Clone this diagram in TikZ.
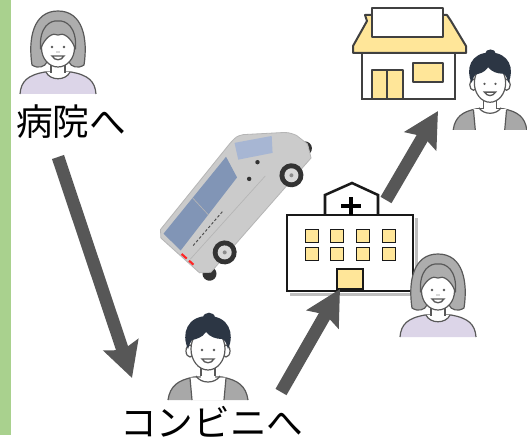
\documentclass[tikz,border=0pt]{standalone}
\usepackage{fontspec}
\newfontfamily\jpfont{Noto Sans CJK JP}
\usetikzlibrary{arrows.meta}

\definecolor{barGreen}{HTML}{A9D18E}
\definecolor{arrowGrey}{HTML}{575757}
\definecolor{lineDark}{HTML}{595959}
\definecolor{hairGrey}{HTML}{ADADAD}
\definecolor{hairNavy}{HTML}{2C3644}
\definecolor{lavender}{HTML}{DCD5E8}
\definecolor{jacketGrey}{HTML}{A8A8A8}
\definecolor{warmYellow}{HTML}{FFE699}
\definecolor{houseLine}{HTML}{404040}
\definecolor{carBody}{HTML}{CBCBCB}
\definecolor{carEdge}{HTML}{B5B5B5}
\definecolor{carBlue}{HTML}{8195B6}
\definecolor{glassBlue}{HTML}{A7B6D3}
\definecolor{tyre}{HTML}{333333}

\tikzset{
  outline/.style={draw=lineDark, line width=0.9pt, line join=round},
  bigarrow/.style={draw=arrowGrey, line width=9.5pt,
    -{Stealth[length=26pt, width=27pt, inset=4pt]}},
  bld/.style={draw=black!90, line width=1.9pt, fill=white, line join=miter},
  win/.style={draw=black!90, line width=1.3pt, fill=warmYellow},
  hse/.style={draw=houseLine, line width=1.5pt, line join=round},
  lbl/.style={font=\jpfont\fontsize{27.5}{30}\selectfont, inner sep=0pt},
  pics/woman/.style={code={
    % hair behind the face
    \draw[outline, fill=hairGrey] (-26,18) .. controls (-30,-8) and (-25,-36) .. (0,-36)
      .. controls (25,-36) and (30,-8) .. (26,18) .. controls (20,22) and (13,20) .. (11,15)
      -- (-11,15) .. controls (-13,20) and (-20,22) .. (-26,18) -- cycle;
    % shoulders
    \fill[lavender] (-38,47) .. controls (-37,34) and (-30,28) .. (-13,25) -- (13,25)
      .. controls (30,28) and (37,34) .. (38,47) -- cycle;
    \draw[outline] (-38,47) .. controls (-37,34) and (-30,28) .. (-13,25) -- (13,25)
      .. controls (30,28) and (37,34) .. (38,47);
    % neck and neckline
    \fill[white] (-7,10) rectangle (7,27);
    \draw[outline, fill=white] (-12,25) .. controls (-8,34) and (8,34) .. (12,25);
    \draw[outline] (-7,12) -- (-7,26) (7,12) -- (7,26);
    % face
    \draw[outline, fill=white] (0,1) ellipse [x radius=16.5, y radius=19];
    % fringe
    \draw[outline, fill=hairGrey] (-17.5,2) .. controls (-19,-20) and (-8,-27) .. (0,-26)
      .. controls (8,-27) and (19,-20) .. (17.5,2) .. controls (13,-10) and (5,-15) .. (0,-12)
      .. controls (-5,-15) and (-13,-10) .. (-17.5,2) -- cycle;
    % eyes and smile
    \fill[lineDark] (-6,0) circle (1.4) (6,0) circle (1.4);
    \fill[lineDark] (-1,5) circle (0.7) (1,5) circle (0.7);
    \draw[lineDark, line width=1pt, fill=white] (-6,9) .. controls (-3,14) and (3,14) .. (6,9) -- cycle;
  }},
  pics/man/.style={code={
    % jacket
    \fill[jacketGrey] (-40,52) .. controls (-38,38) and (-30,32) .. (-14,29) -- (14,29)
      .. controls (30,32) and (38,38) .. (40,52) -- cycle;
    \draw[outline] (-40,52) .. controls (-38,38) and (-30,32) .. (-14,29) -- (14,29)
      .. controls (30,32) and (38,38) .. (40,52);
    % shirt
    \fill[white] (-18,29.5) -- (18,29.5) -- (16,52) -- (-16,52) -- cycle;
    \draw[outline] (-18,30) -- (-16,52) (18,30) -- (16,52);
    % neck and collar
    \fill[white] (-7,12) rectangle (7,30);
    \draw[outline] (-7,14) -- (-7,28) (7,14) -- (7,28);
    \draw[outline] (-12,28) .. controls (-7,36) and (7,36) .. (12,28);
    % ears and face
    \draw[outline, fill=white] (-18,3) ellipse [x radius=4, y radius=6];
    \draw[outline, fill=white] (18,3) ellipse [x radius=4, y radius=6];
    \draw[outline, fill=white] (0,1) ellipse [x radius=17, y radius=21];
    % hair
    \fill[hairNavy] (-20,1) .. controls (-27,-14) and (-21,-32) .. (0,-32)
      .. controls (21,-32) and (27,-14) .. (20,1) .. controls (18.5,-5) and (17,-8) .. (14,-9)
      .. controls (8,-9) and (2,-11) .. (-2,-16) .. controls (-6,-10) and (-12,-9) .. (-16,-8)
      .. controls (-18,-5) .. (-20,1) -- cycle;
    \fill[hairNavy] (-5,-30) .. controls (-5,-37) and (7,-37) .. (7,-30) -- cycle;
    % eyes and smile
    \fill[lineDark] (-6,2) circle (1.4) (6,2) circle (1.4);
    \draw[lineDark, line width=1pt, fill=white] (-6,11) .. controls (-3,16) and (3,16) .. (6,11) -- cycle;
  }},
}

\begin{document}
\begin{tikzpicture}[x=0.75pt, y=-0.75pt]
\useasboundingbox (0,0) rectangle (527,442);
\fill[white] (0,0) rectangle (527,442);
\fill[barGreen] (0,0) rectangle (11,435);

% ---- minivan ----
\begin{scope}[shift={(240,207)}, rotate=48]
  \fill[tyre] (-70,22) circle (7) (87,9) circle (7);
  \draw[carBody, fill=carBody, draw=carEdge, line width=0.6pt]
    (-76,-38) -- (-70,-44) -- (40,-50) .. controls (50,-50) .. (56,-46) -- (80,-22)
    .. controls (88,-14) .. (91,-6) -- (92,8) -- (84,20) -- (-68,22) -- (-76,14) -- cycle;
  \fill[carBlue] (-71,-39) -- (28,-44) -- (20,-22) -- (-72,-15) -- cycle;
  \fill[glassBlue] (44,-47) -- (74,-24) -- (62,-12) -- (34,-33) -- cycle;
  \draw[carEdge, line width=0.5pt] (-25,-41) -- (-27,-18) (-72,-2) -- (40,-2);
  \draw[black!70, line width=0.7pt, dash pattern=on 2pt off 1.5pt] (-60,-9) -- (-14,-10);
  \fill[tyre] (45,-17) circle (2.2) (27,-12) circle (2.2);
  \draw[red!85, line width=1.6pt] (-74,-12) -- (-74,-5) (-74,-2) -- (-74,4);
  \foreach \wx/\wy in {-44/19, 58/17} {
    \fill[tyre] (\wx,\wy) circle (12);
    \fill[black!15] (\wx,\wy) circle (7);
    \fill[black!45] (\wx,\wy) circle (2);
  }
\end{scope}

% ---- hospital ----
\draw[black!25, line width=2pt] (290,294.5) -- (416.5,294.5) -- (416.5,218);
\draw[bld] (325,216) -- (325,195) -- (352,183) -- (378,195) -- (378,216);
\draw[bld] (287,215) rectangle (413,291);
\node[draw=none, inner sep=0pt] (hospital) at (350,237) {};
\draw[black, line width=3.6pt] (351,197) -- (351,215) (341,206) -- (361,206);
\foreach \cx in {312,337,363,389}
  \foreach \cy in {236,254}
    \draw[win] (\cx-6.5,\cy-6.5) rectangle (\cx+6.5,\cy+6.5);
\draw[win] (337,269) rectangle (363,289);

% ---- house ----
\draw[hse, fill=warmYellow] (365,15) -- (367,21) -- (353,46) -- (353,53) -- (466,53)
  -- (466,46) -- (451,21) -- (447,15) -- cycle;
\draw[hse, fill=white] (372,8) rectangle (443,37);
\draw[hse, fill=white] (362,53) rectangle (455,99);
\draw[hse, line width=2.2pt] (361,99) -- (456,99);
\draw[hse, fill=warmYellow] (372,70) rectangle (403,99);
\draw[hse] (387,70) -- (387,99);
\draw[hse, fill=warmYellow] (413,63) rectangle (443,82);

% ---- people ----
\pic (womanA) at (58,47) {woman};
\pic (womanB) at (438,290) {woman};
\pic (manA) at (208,348) {man};
\pic[scale=0.92] (manB) at (490,82) {man};

% ---- labels ----
\node[lbl, anchor=base west] (toHospital) at (16,135) {病院へ};
\node[lbl, anchor=base west] (toStore) at (120,436) {コンビニへ};

% ---- route arrows ----
\coordinate (a1s) at (58,157);
\coordinate (a1e) at (132,378);
\coordinate (a2s) at (281,392);
\coordinate (a2e) at (340,289);
\coordinate (a3s) at (386,200);
\coordinate (a3e) at (438,111);
\draw[bigarrow] (a1s) -- (a1e);
\draw[bigarrow] (a2s) -- (a2e);
\draw[bigarrow] (a3s) -- (a3e);
\end{tikzpicture}
\end{document}
